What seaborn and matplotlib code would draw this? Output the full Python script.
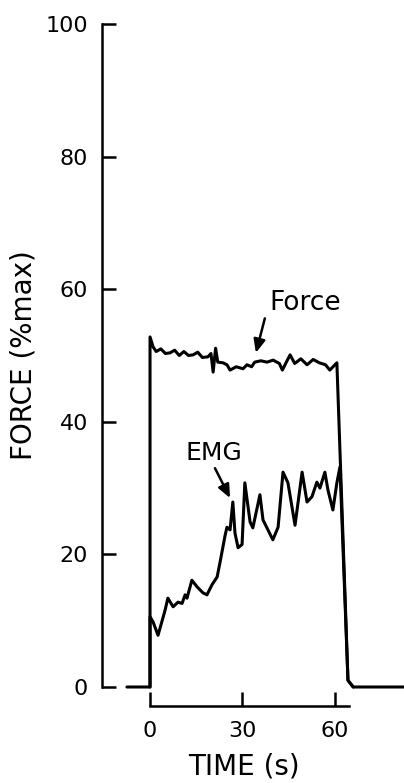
import matplotlib
matplotlib.use("Agg")
import matplotlib.pyplot as plt
import seaborn as sns
import pandas as pd

# ---- data ----
force_t = [-7.5, 0.0, 0.0, 1.0, 2.0, 3.5, 5.0, 6.5, 8.0, 9.5, 11.0, 12.5, 14.0, 15.5,
           17.0, 18.8, 19.8, 20.5, 21.3, 22.0, 23.7, 25.0, 26.0, 28.0, 30.2, 31.5,
           33.0, 34.0, 36.0, 38.0, 40.0, 42.0, 43.0, 44.5, 45.5, 47.0, 49.0, 51.0,
           53.0, 55.0, 57.0, 58.4, 60.7, 64.3, 66.0, 83.0]
force_v = [0.0, 0.0, 52.8, 51.3, 50.6, 51.0, 50.3, 50.4, 50.8, 50.0, 50.6, 50.0, 50.1, 50.5,
           49.7, 49.8, 50.3, 47.5, 51.1, 49.0, 48.9, 48.6, 47.8, 48.3, 48.0, 48.6,
           48.3, 49.0, 49.2, 49.0, 49.3, 48.8, 47.8, 49.2, 50.1, 48.8, 49.5, 48.6,
           49.4, 48.9, 48.6, 47.8, 48.9, 1.0, 0.0, 0.0]

emg_t = [0.0, 0.0, 1.0, 2.6, 4.9, 5.8, 7.5, 9.1, 10.4, 11.4, 12.0, 13.6, 15.3, 17.2,
         18.5, 20.1, 21.8, 22.7, 24.4, 25.0, 26.0, 26.9, 27.6, 28.6, 29.9, 30.8,
         32.5, 33.4, 35.7, 36.7, 39.9, 41.6, 43.2, 44.8, 47.1, 49.4, 51.0, 52.6,
         54.2, 55.2, 56.8, 57.8, 59.4, 60.7, 61.7, 64.3, 66.0]
emg_v = [0.0, 10.6, 9.8, 7.8, 11.6, 13.4, 12.1, 12.8, 12.6, 13.9, 13.4, 16.1, 15.1, 14.2,
         13.9, 15.4, 16.6, 18.7, 22.9, 24.1, 23.7, 27.9, 23.2, 21.0, 21.5, 30.8,
         24.9, 24.0, 29.0, 25.2, 22.2, 24.1, 32.4, 30.8, 24.4, 32.4, 27.9, 28.7,
         30.9, 30.0, 32.4, 29.7, 26.7, 30.8, 33.2, 1.0, 0.0]

y_ticks = [0, 20, 40, 60, 80, 100]
x_ticks = [0, 30, 60]
x_label = "TIME (s)"
y_label = "FORCE (%max)"

force_df = pd.DataFrame({"t": force_t, "v": force_v})
emg_df = pd.DataFrame({"t": emg_t, "v": emg_v})

sns.set_style("ticks")
plt.rcParams["font.family"] = ["DejaVu Sans"]
plt.rcParams["text.color"] = "black"
plt.rcParams["axes.labelcolor"] = "black"

W, H = 404, 783
fig = plt.figure(figsize=(W / 100, H / 100), dpi=100)
ax = fig.add_axes([102 / W, (H - 687) / H, (W - 102) / W, (687 - 24) / H])

lw = 2.2
sns.lineplot(data=force_df, x="t", y="v", estimator=None, sort=False,
             color="black", lw=lw, ax=ax, clip_on=False)
sns.lineplot(data=emg_df, x="t", y="v", estimator=None, sort=False,
             color="black", lw=lw, ax=ax, clip_on=False)

ax.set_xlim(-15.6, 82.5)
ax.set_ylim(0, 100)

for s in ["top", "right"]:
    ax.spines[s].set_visible(False)
ax.spines["left"].set_bounds(0, 100)
ax.spines["left"].set_linewidth(1.8)
ax.spines["left"].set_color("black")
ax.spines["bottom"].set_position(("outward", 13.5))
ax.spines["bottom"].set_bounds(0, 64.5)
ax.spines["bottom"].set_linewidth(1.8)
ax.spines["bottom"].set_color("black")

ax.set_yticks(y_ticks)
ax.set_xticks(x_ticks)
ax.tick_params(axis="y", direction="in", length=10, width=1.8, pad=10,
               labelsize=16, colors="black")
ax.tick_params(axis="x", direction="in", length=10, width=1.8, pad=11,
               labelsize=16, colors="black")

ax.set_ylabel(y_label, fontsize=20, labelpad=6)
ax.set_xlabel(x_label, fontsize=20)
ax.xaxis.set_label_coords((244 - 102) / (W - 102), (687 - 752) / (687 - 24))

arrow_kw = dict(arrowstyle="-|>,head_length=0.8,head_width=0.35",
                color="black", lw=1.8, shrinkA=0, shrinkB=0)
ax.text(50.3, 57.9, "Force", fontsize=19, ha="center", va="center")
ax.annotate("", xy=(34.4, 50.4), xytext=(37.3, 55.6), arrowprops=arrow_kw)
ax.text(20.8, 35.3, "EMG", fontsize=18, ha="center", va="center")
ax.annotate("", xy=(26.0, 28.5), xytext=(21.1, 33.0), arrowprops=arrow_kw)

fig.savefig("out.png", dpi=100)
